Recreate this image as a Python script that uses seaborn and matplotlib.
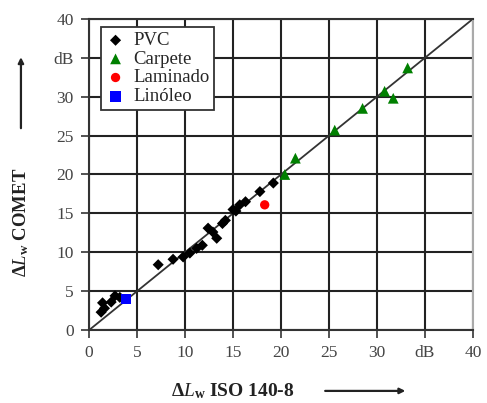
import numpy as np
import pandas as pd
import matplotlib
matplotlib.use("Agg")
import matplotlib.pyplot as plt
import seaborn as sns

# --- data ---
pvc_x = [1.25, 1.6, 1.4, 2.3, 2.7, 3.2, 7.2, 8.75, 9.8, 10.5, 11.2, 11.8, 12.4, 12.9, 13.3,
         13.9, 14.2, 15.0, 15.3, 15.7, 16.3, 17.8, 19.2]
pvc_y = [2.3, 2.8, 3.5, 3.6, 4.4, 4.2, 8.4, 9.1, 9.4, 9.9, 10.5, 10.9, 13.1, 12.6, 11.8,
         13.7, 14.1, 15.5, 15.3, 16.1, 16.5, 17.8, 18.9]
carp_x = [20.4, 21.5, 25.6, 28.5, 30.8, 31.7, 33.2]
carp_y = [20.0, 22.1, 25.7, 28.5, 30.7, 29.8, 33.7]
lam_x = [18.3]
lam_y = [16.1]
lin_x = [3.85]
lin_y = [4.0]

materials = ["PVC", "Carpete", "Laminado", "Linóleo"]
colors = ["black", "green", "red", "blue"]
markers = ["D", "^", "o", "s"]
sizes = [32, 60, 45, 60]

tick_vals = [0, 5, 10, 15, 20, 25, 30, 35, 40]
tick_labels = ["0", "5", "10", "15", "20", "25", "30", "dB", "40"]

df = pd.DataFrame({
    "x": pvc_x + carp_x + lam_x + lin_x,
    "y": pvc_y + carp_y + lam_y + lin_y,
    "mat": (["PVC"] * len(pvc_x) + ["Carpete"] * len(carp_x)
            + ["Laminado"] * len(lam_x) + ["Linóleo"] * len(lin_x)),
})

sns.set_style("white")
plt.rcParams["font.family"] = ["Liberation Serif", "DejaVu Serif"]
plt.rcParams["mathtext.fontset"] = "custom"
plt.rcParams["mathtext.rm"] = "Liberation Serif"
plt.rcParams["mathtext.it"] = "Liberation Serif:italic"
plt.rcParams["mathtext.bf"] = "Liberation Serif:bold"

fig = plt.figure(figsize=(4.87, 4.03), dpi=100)
ax = fig.add_axes([0.183, 0.181, 0.788, 0.772])

ax.plot([0, 40], [0, 40], color="#333333", lw=1.3, zorder=2)

for m, c, mk, s in zip(materials, colors, markers, sizes):
    sub = df[df["mat"] == m]
    sns.scatterplot(data=sub, x="x", y="y", color=c, marker=mk, s=s,
                    edgecolor="none", ax=ax, label=m, zorder=3)

ax.set_xlim(0, 40)
ax.set_ylim(0, 40)
ax.set_xticks(tick_vals)
ax.set_yticks(tick_vals)
ax.set_xticklabels(tick_labels, fontsize=12.5, color="#444444")
ax.set_yticklabels(tick_labels, fontsize=12.5, color="#444444")
ax.grid(True, color="#222222", lw=1.5)
ax.set_axisbelow(True)
ax.tick_params(axis="both", direction="out", length=6, width=1.3, color="#444444",
               bottom=True, left=True, pad=5)
for side in ["left", "bottom", "top"]:
    ax.spines[side].set_color("#333333")
    ax.spines[side].set_linewidth(1.5)
ax.spines["right"].set_color("#aaaaaa")
ax.spines["right"].set_linewidth(1.5)
ax.set_xlabel("")
ax.set_ylabel("")

leg = ax.legend(loc="upper left", bbox_to_anchor=(0.02, 0.985), fontsize=13.5,
                frameon=True, fancybox=False, edgecolor="#333333",
                handletextpad=0.4, borderpad=0.25, labelspacing=0.08,
                handlelength=1.1, borderaxespad=0.2)
leg.get_frame().set_linewidth(1.3)
leg.get_frame().set_alpha(1)

# axis labels with arrows
fig.text(0.043, 0.449, r"$\mathbf{\Delta}\mathit{L}_{\mathbf{w}}$" + " COMET",
         rotation=90, ha="center", va="center", fontsize=13.5, fontweight="bold",
         color="#222222")
ax.annotate("", xy=(0.043, 0.865), xytext=(0.043, 0.675), xycoords="figure fraction",
            textcoords="figure fraction",
            arrowprops=dict(arrowstyle="-|>", color="#222222", lw=1.6,
                            mutation_scale=8), annotation_clip=False)
fig.text(0.478, 0.03, r"$\mathbf{\Delta}\mathit{L}_{\mathbf{w}}$" + " ISO 140-8",
         ha="center", va="center", fontsize=14, fontweight="bold", color="#222222")
ax.annotate("", xy=(0.838, 0.03), xytext=(0.662, 0.03), xycoords="figure fraction",
            textcoords="figure fraction",
            arrowprops=dict(arrowstyle="-|>", color="#222222", lw=1.6,
                            mutation_scale=8), annotation_clip=False)

fig.savefig("out.png", dpi=100, facecolor="white")
